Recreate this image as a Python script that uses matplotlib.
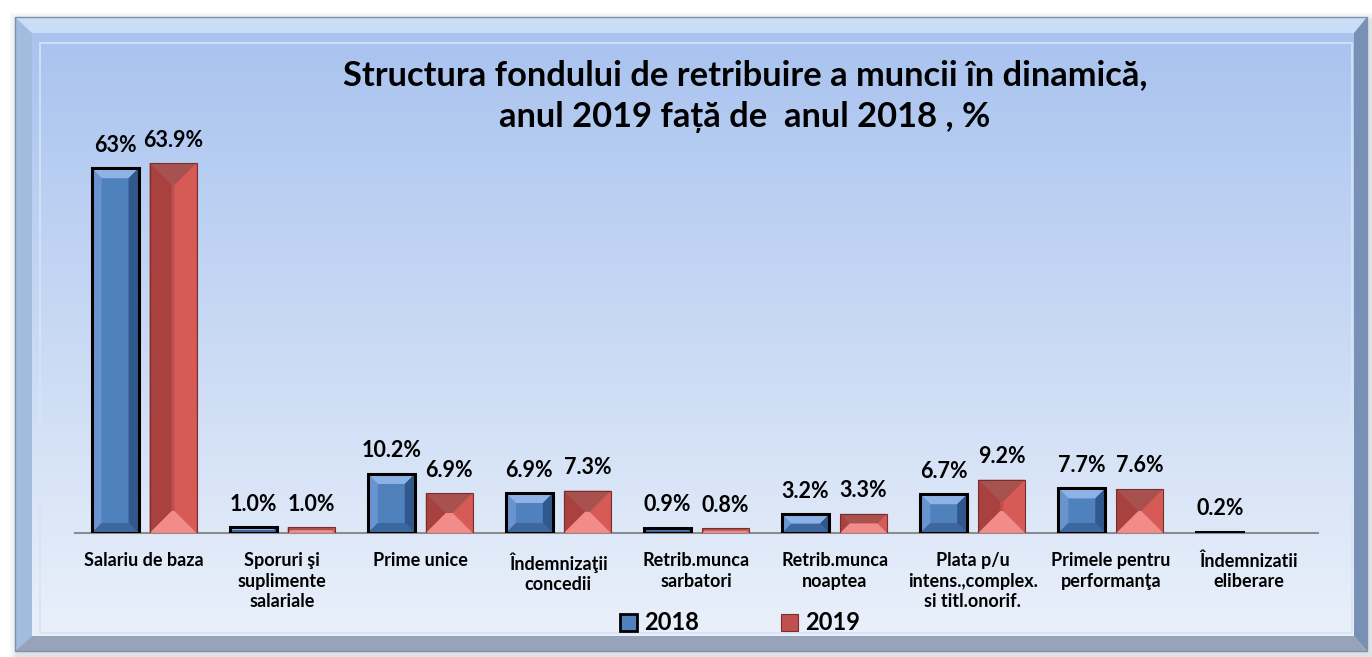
import numpy as np
import matplotlib
matplotlib.use('Agg')
import matplotlib.pyplot as plt
from matplotlib.patches import Polygon, Rectangle, Patch

plt.rcParams['font.family'] = ['Lato', 'DejaVu Sans']

# Date
categorii = ["Salariu de baza", "Sporuri şi\nsuplimente\nsalariale", "Prime unice",
             "Îndemnizaţii\nconcedii", "Retrib.munca\nsarbatori", "Retrib.munca\nnoaptea",
             "Plata p/u\nintens.,complex.\nsi titl.onorif.", "Primele pentru\nperformanţa",
             "Îndemnizatii\neliberare"]
v2018 = [63.0, 1.0, 10.2, 6.9, 0.9, 3.2, 6.7, 7.7, 0.2]
v2019 = [63.9, 1.0, 6.9, 7.3, 0.8, 3.3, 9.2, 7.6, np.nan]
et2018 = ["63%", "1.0%", "10.2%", "6.9%", "0.9%", "3.2%", "6.7%", "7.7%", "0.2%"]
et2019 = ["63.9%", "1.0%", "6.9%", "7.3%", "0.8%", "3.3%", "9.2%", "7.6%", ""]
titlu = "Structura fondului de retribuire a muncii în dinamică,\nanul 2019 față de  anul 2018 , %"

W, H = 1372, 657
fig = plt.figure(figsize=(W / 100, H / 100), dpi=100)
fig.patch.set_facecolor('white')

# Fundal / rama (coordonate in pixeli)
bg = fig.add_axes([0, 0, 1, 1])
bg.set_xlim(0, W)
bg.set_ylim(H, 0)
bg.set_axis_off()

# umbra
for k, a in enumerate([0.05, 0.05, 0.06, 0.07]):
    s = 8 - 2 * k
    bg.add_patch(Rectangle((15 - s + 3, 17 - s + 4), 1352 + 2 * s, 634 + 2 * s,
                           facecolor='#6a7a90', edgecolor='none', alpha=a, zorder=0))

ox0, oy0, ox1, oy1 = 15, 17, 1367, 651
ix0, iy0, ix1, iy1 = 32, 33, 1354, 636
bg.add_patch(Polygon([(ox0, oy0), (ox1, oy0), (ix1, iy0), (ix0, iy0)], facecolor='#c9ddf6', edgecolor='none', zorder=1))
bg.add_patch(Polygon([(ox0, oy0), (ix0, iy0), (ix0, iy1), (ox0, oy1)], facecolor='#a2bce0', edgecolor='none', zorder=1))
bg.add_patch(Polygon([(ox1, oy0), (ox1, oy1), (ix1, iy1), (ix1, iy0)], facecolor='#7890b5', edgecolor='none', zorder=1))
bg.add_patch(Polygon([(ox0, oy1), (ix0, iy1), (ix1, iy1), (ox1, oy1)], facecolor='#97a3b8', edgecolor='none', zorder=1))
bg.add_patch(Rectangle((ox0, oy0), ox1 - ox0, oy1 - oy0, facecolor='none', edgecolor='#8090a8', lw=1, zorder=3))

# gradient panou
top = np.array([0.663, 0.765, 0.937])
bot = np.array([0.914, 0.941, 0.980])
t = np.linspace(0, 1, 256)[:, None]
grad = (top * (1 - t) + bot * t)[:, None, :]
bg.imshow(grad, extent=(ix0, ix1, iy1, iy0), aspect='auto', zorder=2, interpolation='bilinear')
bg.add_patch(Rectangle((40, 43), 1312, 590, facecolor='none', edgecolor='#d6e4f7', lw=1.2, zorder=3))
bg.set_xlim(0, W)
bg.set_ylim(H, 0)

# Axa principala
base_px, top_px = 533, 100
x_left, x_right = 75, 1318
ax = fig.add_axes([x_left / W, 1 - base_px / H, (x_right - x_left) / W, (base_px - top_px) / H])
ax.patch.set_alpha(0)
ymax = (base_px - top_px) / 5.79
ax.set_ylim(0, ymax)
ax.set_xlim(-0.5, len(categorii) - 0.5)

x = np.arange(len(categorii))
bw = 0.34
b18 = ax.bar(x - 0.21, v2018, bw, color='#4f81bd', edgecolor='none', zorder=2)
b19 = ax.bar(x + 0.21, v2019, bw, color='#c0504d', edgecolor='none', zorder=2)

pxx = (x_right - x_left) / (len(categorii))
pxy = (base_px - top_px) / ymax


def bevel(bar, dmax, cols):
    h = bar.get_height()
    if not np.isfinite(h) or h <= 0:
        return
    x0 = bar.get_x()
    w = bar.get_width()
    wpx, hpx = w * pxx, h * pxy
    d = min(dmax, wpx / 2, hpx / 2)
    dx, dy = d / pxx, d / pxy
    x1, y1 = x0 + w, h
    c_top, c_left, c_right, c_bot = cols
    ax.add_patch(Polygon([(x0, y1), (x1, y1), (x1 - dx, y1 - dy), (x0 + dx, y1 - dy)], facecolor=c_top, edgecolor='none', zorder=3))
    ax.add_patch(Polygon([(x0, 0), (x0, y1), (x0 + dx, y1 - dy), (x0 + dx, dy)], facecolor=c_left, edgecolor='none', zorder=3))
    ax.add_patch(Polygon([(x1, 0), (x1, y1), (x1 - dx, y1 - dy), (x1 - dx, dy)], facecolor=c_right, edgecolor='none', zorder=3))
    ax.add_patch(Polygon([(x0, 0), (x1, 0), (x1 - dx, dy), (x0 + dx, dy)], facecolor=c_bot, edgecolor='none', zorder=3))


for b in b18:
    bevel(b, 10, ('#8db3e6', '#6a94cf', '#30588c', '#3c679f'))
for b in b19:
    bevel(b, 22, ('#a85250', '#a9423f', '#d65b57', '#f28c88'))

ax.bar(x - 0.21, v2018, bw, color='none', edgecolor='black', lw=2.2, zorder=4)
ax.bar(x + 0.21, v2019, bw, color='none', edgecolor='#7a2e2c', lw=0.8, zorder=4)

# etichete
for xi, v, s in zip(x - 0.21, v2018, et2018):
    ax.annotate(s, (xi, v), xytext=(0, 9), textcoords='offset points', ha='center', va='bottom',
                fontsize=15.5, fontweight='bold', color='black', zorder=5)
for xi, v, s in zip(x + 0.21, v2019, et2019):
    if s:
        ax.annotate(s, (xi, v), xytext=(0, 9), textcoords='offset points', ha='center', va='bottom',
                    fontsize=15.5, fontweight='bold', color='black', zorder=5)

ax.set_xticks(x)
ax.set_xticklabels(categorii, fontsize=13, fontweight='bold', linespacing=1.25)
ax.tick_params(axis='x', length=0, pad=14)
ax.set_yticks([])
for sp in ['top', 'left', 'right']:
    ax.spines[sp].set_visible(False)
ax.spines['bottom'].set_color('#8c8c8c')
ax.spines['bottom'].set_linewidth(1.5)
ax.spines['bottom'].set_zorder(1)

fig.text(745 / W, 1 - 96 / H, titlu, ha='center', va='center', fontsize=24.8, fontweight='bold',
         linespacing=1.4)

handles = [Patch(facecolor='#4f81bd', edgecolor='black', lw=2, label='2018'),
           Patch(facecolor='#c0504d', edgecolor='#7a2e2c', lw=0.8, label='2019')]
fig.legend(handles=handles, loc='center', bbox_to_anchor=(740 / W, 1 - 623 / H), ncol=2, frameon=False,
           prop={'weight': 'bold', 'size': 17}, handlelength=0.7, handleheight=0.7, handletextpad=0.3,
           columnspacing=3.5)

fig.savefig('out.png', dpi=100)
